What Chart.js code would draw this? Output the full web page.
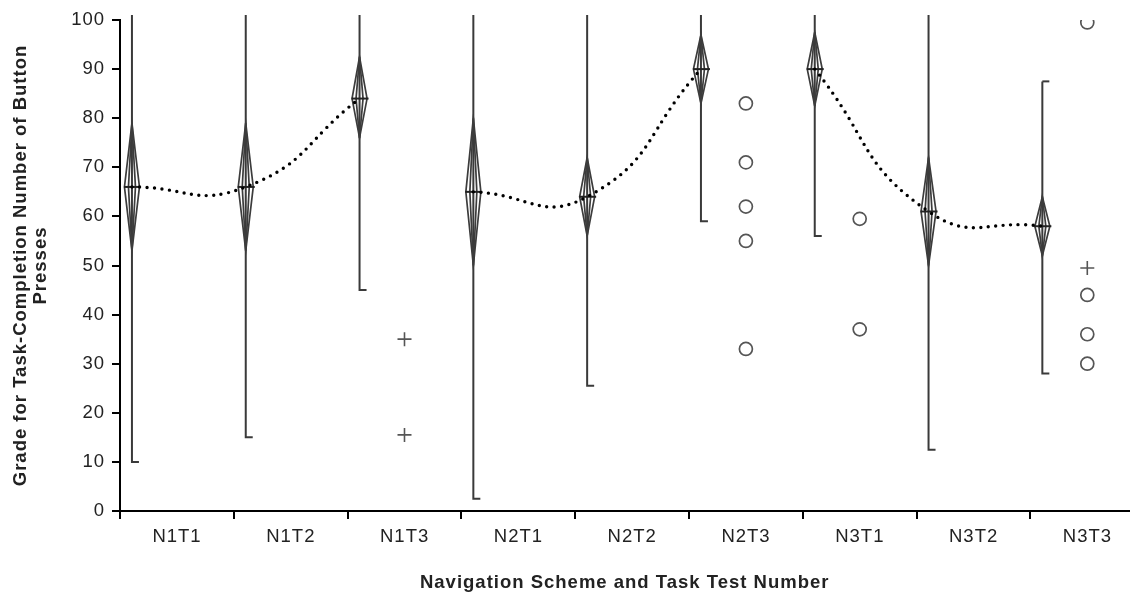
<!DOCTYPE html>
<html>
<head>
<meta charset="utf-8">
<script src="https://cdn.jsdelivr.net/npm/chart.js@4/dist/chart.umd.min.js"></script>
<style>
  html, body { margin: 0; padding: 0; background: #fff; }
  #wrap { width: 1138px; height: 594px; position: relative; }
</style>
</head>
<body>
<div id="wrap"><canvas id="c"></canvas></div>
<script>
// ---- data ----
const categories = ['N1T1','N1T2','N1T3','N2T1','N2T2','N2T3','N3T1','N3T2','N3T3'];
const whiskerLow  = [10, 15, 45, 2.5, 25.5, 59, 56, 12.5, 28];
const whiskerHigh = [101, 101, 101, 101, 101, 101, 101, 101, 87.5];
const means       = [66, 66, 84, 65, 64, 90, 90, 61, 58];
const ciLow       = [53, 53, 76, 50, 56, 83, 82.5, 50, 52];
const ciHigh      = [79, 79, 92.5, 80, 72, 97, 97.5, 72, 64];
const yTicks      = [0,10,20,30,40,50,60,70,80,90,100];
// outliers: category index, value
const circleCat   = [5, 5, 5, 5, 5, 6, 6, 8, 8, 8, 8];
const circleVal   = [83, 71, 62, 55, 33, 59.5, 37, 99.5, 44, 36, 30];
const crossCat    = [2, 2, 8];
const crossVal    = [35, 15.5, 49.5];
const groups      = [[0,1,2],[3,4,5],[6,7,8]];

const BOX_OFF = 0.105;   // box position inside each category
const OUT_OFF = 0.5;     // outliers at category centre

const spacingPlugin = {
  id: 'spacing',
  beforeDraw(chart) { chart.ctx.letterSpacing = '1px'; }
};

const boxPlugin = {
  id: 'diamonds',
  beforeDatasetsDraw(chart) {
    const ctx = chart.ctx, xs = chart.scales.x, ys = chart.scales.y;
    ctx.save();
    categories.forEach((c, i) => {
      const x = xs.getPixelForValue(i + BOX_OFF);
      const yLo = ys.getPixelForValue(whiskerLow[i]);
      const yHi = ys.getPixelForValue(whiskerHigh[i]);
      const yM = ys.getPixelForValue(means[i]);
      const yCL = ys.getPixelForValue(ciLow[i]);
      const yCH = ys.getPixelForValue(ciHigh[i]);
      ctx.strokeStyle = '#3a3a3a';
      ctx.lineWidth = 2;
      ctx.beginPath();
      ctx.moveTo(x, yHi); ctx.lineTo(x, yLo);
      ctx.lineTo(x + 7, yLo);
      ctx.stroke();
      if (whiskerHigh[i] < 100) {
        ctx.beginPath();
        ctx.moveTo(x, yHi); ctx.lineTo(x + 7, yHi);
        ctx.stroke();
      }
      ctx.lineWidth = 1.7;
      ctx.strokeStyle = '#3c3c3c';
      ctx.beginPath();
      ctx.moveTo(x, yCH); ctx.lineTo(x + 7.5, yM); ctx.lineTo(x, yCL); ctx.lineTo(x - 7.5, yM); ctx.closePath();
      ctx.stroke();
      ctx.beginPath();
      ctx.moveTo(x, yCH); ctx.lineTo(x + 3.5, yM); ctx.lineTo(x, yCL); ctx.lineTo(x - 3.5, yM); ctx.closePath();
      ctx.stroke();
      ctx.strokeStyle = '#222';
      ctx.lineWidth = 2;
      ctx.beginPath();
      ctx.moveTo(x - 8, yM); ctx.lineTo(x + 9, yM);
      ctx.stroke();
    });
    ctx.restore();
  }
};

const lineSets = groups.map(g => ({
  type: 'line',
  data: g.map(i => ({ x: i + BOX_OFF, y: means[i] })),
  borderColor: '#000',
  borderWidth: 3.4,
  borderDash: [0, 7.5],
  borderCapStyle: 'round',
  pointRadius: 0,
  tension: 0.5,
  fill: false
}));

const circleSet = {
  type: 'scatter',
  data: circleCat.map((c, k) => ({ x: c + OUT_OFF, y: circleVal[k] })),
  pointStyle: 'circle',
  pointRadius: 6.5,
  borderColor: '#555',
  backgroundColor: 'rgba(0,0,0,0)',
  borderWidth: 1.7
};
const crossSet = {
  type: 'scatter',
  data: crossCat.map((c, k) => ({ x: c + OUT_OFF, y: crossVal[k] })),
  pointStyle: 'cross',
  pointRadius: 7,
  borderColor: '#555',
  borderWidth: 1.6
};

new Chart(document.getElementById('c'), {
  data: { datasets: [...lineSets, circleSet, crossSet] },
  plugins: [spacingPlugin, boxPlugin],
  options: {
    responsive: true,
    maintainAspectRatio: false,
    devicePixelRatio: 1,
    animation: false,
    events: [],
    layout: { padding: { top: 20, right: 0, left: 0, bottom: 0 } },
    plugins: { legend: { display: false }, tooltip: { enabled: false } },
    scales: {
      x: {
        type: 'linear',
        min: 0,
        max: 8.87,
        afterBuildTicks: s => { s.ticks = categories.map((c, i) => ({ value: i })); },
        afterFit: s => { s.height = 83; },
        ticks: {
          callback: v => categories[v],
          labelOffset: 57,
          autoSkip: false,
          maxRotation: 0,
          font: { family: 'Liberation Sans', size: 18.5 },
          color: '#222',
          padding: 7
        },
        grid: { drawOnChartArea: false, drawTicks: true, tickLength: 8, color: '#000', lineWidth: 2 },
        border: { display: true, color: '#000', width: 2 },
        title: {
          display: true,
          text: 'Navigation Scheme and Task Test Number',
          font: { family: 'Liberation Sans', size: 18.5, weight: 'bold' },
          color: '#222',
          padding: { top: 10, bottom: 0 }
        }
      },
      y: {
        type: 'linear',
        min: 0,
        max: 100,
        afterBuildTicks: s => { s.ticks = yTicks.map(v => ({ value: v })); },
        afterFit: s => { s.width = 120; },
        ticks: {
          font: { family: 'Liberation Sans', size: 18.5 },
          color: '#222',
          padding: 7
        },
        grid: { drawOnChartArea: false, drawTicks: true, tickLength: 8, color: '#000', lineWidth: 2 },
        border: { display: true, color: '#000', width: 2 },
        title: {
          display: true,
          text: ['Grade for Task-Completion Number of Button', 'Presses'],
          font: { family: 'Liberation Sans', size: 18.5, weight: 'bold', lineHeight: 1.08 },
          color: '#222',
          padding: { top: 11, bottom: 4 }
        }
      }
    }
  }
});
</script>
</body>
</html>
